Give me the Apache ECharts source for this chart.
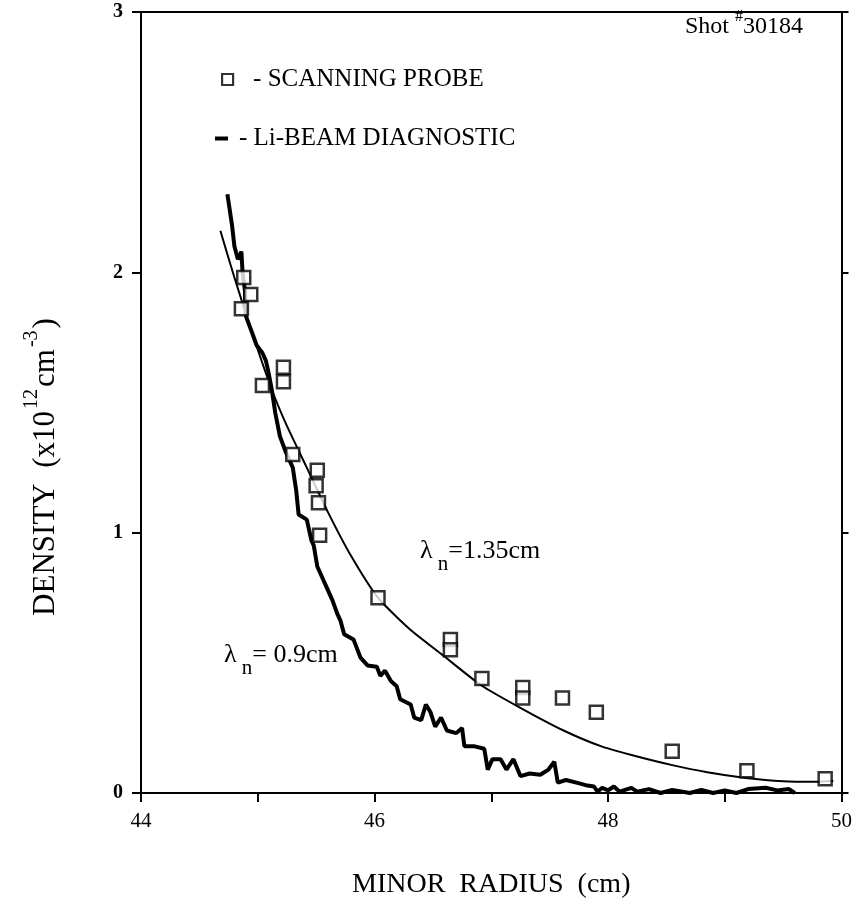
<!DOCTYPE html>
<html><head><meta charset="utf-8">
<script src="https://cdn.jsdelivr.net/npm/echarts@6/dist/echarts.min.js"></script>
<style>html,body{margin:0;padding:0;background:#fff}#c{width:855px;height:921px}</style>
</head><body><div id="c"></div>
<script>
// ---- data ----
const xTickLabels = [44, 46, 48, 50];
const yTickLabels = [0, 1, 2, 3];

// Scanning probe (hollow squares)
const probeX = [44.86, 44.88, 44.94, 45.04, 45.22, 45.22, 45.30, 45.51, 45.50, 45.52, 45.53,
                46.03, 46.65, 46.65, 46.92, 47.27, 47.27, 47.61, 47.90, 48.55, 49.19, 49.86];
const probeY = [1.86, 1.98, 1.915, 1.565, 1.635, 1.58, 1.30, 1.24, 1.18, 1.115, 0.99,
                0.75, 0.59, 0.55, 0.44, 0.405, 0.365, 0.365, 0.31, 0.16, 0.085, 0.055];

// Li-beam diagnostic (thick noisy trace)
const beamX = [44.74, 44.78, 44.80, 44.83, 44.86, 44.87, 44.89, 44.90, 44.95, 44.99, 45.04, 45.07,
               45.09, 45.12, 45.15, 45.19, 45.24, 45.30, 45.33, 45.35, 45.42, 45.46, 45.48, 45.51,
               45.56, 45.60, 45.64, 45.68, 45.71, 45.74, 45.82, 45.88, 45.94, 46.02, 46.05, 46.09,
               46.14, 46.19, 46.22, 46.31, 46.34, 46.40, 46.44, 46.48, 46.52, 46.57, 46.62, 46.70,
               46.75, 46.77, 46.85, 46.94, 46.97, 47.01, 47.08, 47.13, 47.19, 47.25, 47.33, 47.42,
               47.49, 47.54, 47.57, 47.64, 47.73, 47.81, 47.88, 47.91, 47.95, 48.00, 48.05, 48.10,
               48.20, 48.25, 48.35, 48.45, 48.55, 48.70, 48.80, 48.90, 49.00, 49.10, 49.20, 49.35,
               49.45, 49.55, 49.60];
const beamY = [2.30, 2.18, 2.10, 2.05, 2.08, 2.00, 1.93, 1.83, 1.77, 1.72, 1.69, 1.66,
               1.62, 1.55, 1.46, 1.37, 1.31, 1.25, 1.16, 1.07, 1.05, 0.97, 0.95, 0.87,
               0.82, 0.78, 0.74, 0.69, 0.66, 0.61, 0.59, 0.52, 0.49, 0.485, 0.45, 0.47,
               0.43, 0.41, 0.36, 0.34, 0.29, 0.28, 0.34, 0.31, 0.255, 0.29, 0.24, 0.23,
               0.25, 0.18, 0.18, 0.17, 0.09, 0.13, 0.13, 0.09, 0.13, 0.065, 0.075, 0.07,
               0.09, 0.12, 0.04, 0.05, 0.04, 0.03, 0.025, 0.005, 0.02, 0.01, 0.025, 0.005,
               0.02, 0.005, 0.015, 0.0, 0.012, 0.0, 0.012, 0.0, 0.01, 0.0, 0.015, 0.02,
               0.01, 0.015, 0.0];

// Fitted curve (lambda_n = 1.35 cm)
const fitX = [44.68, 44.80, 44.95, 45.12, 45.24, 45.42, 45.60, 45.80, 46.03, 46.30, 46.60, 46.91,
              47.23, 47.61, 47.95, 48.25, 48.55, 48.85, 49.18, 49.50, 49.78, 49.93];
const fitY = [2.16, 1.98, 1.77, 1.55, 1.42, 1.25, 1.08, 0.91, 0.75, 0.63, 0.524, 0.415,
              0.332, 0.242, 0.178, 0.14, 0.107, 0.08, 0.058, 0.045, 0.043, 0.046];

const FONT = '"Liberation Serif", "DejaVu Serif", serif';
const zip = (a, b) => a.map((v, i) => [v, b[i]]);

const chart = echarts.init(document.getElementById('c'), null, {renderer: 'canvas'});
chart.setOption({
  backgroundColor: '#fff',
  animation: false,
  grid: {left: 141, right: 11, top: 12, bottom: 128},
  xAxis: [{
    type: 'value', min: 44, max: 50, interval: 1, position: 'bottom',
    axisLine: {show: true, onZero: false, lineStyle: {color: '#000', width: 2}},
    axisTick: {show: true, inside: false, length: 9, lineStyle: {color: '#000', width: 2}},
    axisLabel: {color: '#000', fontFamily: FONT, fontSize: 21, margin: 18,
      formatter: v => xTickLabels.indexOf(v) >= 0 ? String(v) : ''},
    splitLine: {show: false},
    name: 'MINOR  RADIUS  (cm)', nameLocation: 'middle', nameGap: 78,
    nameTextStyle: {color: '#000', fontFamily: FONT, fontSize: 28}
  }, {
    type: 'value', min: 44, max: 50, interval: 1, position: 'top',
    axisLine: {show: true, onZero: false, lineStyle: {color: '#000', width: 2}},
    axisTick: {show: false}, axisLabel: {show: false}, splitLine: {show: false}
  }],
  yAxis: [{
    type: 'value', min: 0, max: 3, interval: 1, position: 'left',
    axisLine: {show: true, onZero: false, lineStyle: {color: '#000', width: 2}},
    axisTick: {show: true, inside: false, length: 9, lineStyle: {color: '#000', width: 2}},
    axisLabel: {color: '#000', fontFamily: FONT, fontSize: 20, fontWeight: 'bold', margin: 18,
      formatter: v => yTickLabels.indexOf(v) >= 0 ? String(v) : ''},
    splitLine: {show: false}
  }, {
    type: 'value', min: 0, max: 3, interval: 1, position: 'right',
    axisLine: {show: true, onZero: false, lineStyle: {color: '#000', width: 2}},
    axisTick: {show: true, inside: false, length: 7, lineStyle: {color: '#000', width: 2}},
    axisLabel: {show: false}, splitLine: {show: false}
  }],
  legend: [{
    data: ['SCANNING PROBE'], left: 216, top: 62, icon: 'rect',
    itemWidth: 11, itemHeight: 11,
    itemStyle: {color: '#fff', borderColor: '#000', borderWidth: 2.2},
    formatter: '- {name}',
    textStyle: {color: '#000', fontFamily: FONT, fontSize: 25, padding: [0, 0, 0, 15]}
  }, {
    data: ['Li-BEAM DIAGNOSTIC'], left: 210, top: 121, icon: 'rect',
    itemWidth: 13, itemHeight: 4,
    itemStyle: {color: '#000', borderWidth: 0},
    formatter: '- {name}',
    textStyle: {color: '#000', fontFamily: FONT, fontSize: 25, padding: [0, 0, 0, 6]}
  }],
  graphic: [
    {type: 'text', x: 685, y: 27, style: {
      text: '{a|Shot }{s|#}{a|30184}', align: 'left', verticalAlign: 'middle',
      textAlign: 'left', textVerticalAlign: 'middle', fill: '#000',
      rich: {a: {fontFamily: FONT, fontSize: 24, lineHeight: 36, verticalAlign: 'middle', fill: '#000'},
             s: {fontFamily: FONT, fontSize: 16, lineHeight: 16, verticalAlign: 'top', fill: '#000'}}}},
    {type: 'text', x: 420, y: 551, style: {
      text: '{a|λ}{b| n}{a|=1.35cm}', align: 'left', verticalAlign: 'middle',
      textAlign: 'left', textVerticalAlign: 'middle', fill: '#000',
      rich: {a: {fontFamily: FONT, fontSize: 26, lineHeight: 48, verticalAlign: 'middle', fill: '#000'},
             b: {fontFamily: FONT, fontSize: 21, lineHeight: 21, verticalAlign: 'bottom', fill: '#000'}}}},
    {type: 'text', x: 224, y: 655, style: {
      text: '{a|λ}{b| n}{a|= 0.9cm}', align: 'left', verticalAlign: 'middle',
      textAlign: 'left', textVerticalAlign: 'middle', fill: '#000',
      rich: {a: {fontFamily: FONT, fontSize: 26, lineHeight: 48, verticalAlign: 'middle', fill: '#000'},
             b: {fontFamily: FONT, fontSize: 21, lineHeight: 21, verticalAlign: 'bottom', fill: '#000'}}}},
    {type: 'text', x: 46, y: 467, rotation: Math.PI / 2, style: {
      text: '{a|DENSITY  (x10}{s|12}{a|cm}{s|-3}{a|)}', align: 'center', verticalAlign: 'middle',
      textAlign: 'center', textVerticalAlign: 'middle', fill: '#000',
      rich: {a: {fontFamily: FONT, fontSize: 31, lineHeight: 48, verticalAlign: 'middle', fill: '#000'},
             s: {fontFamily: FONT, fontSize: 20, lineHeight: 20, verticalAlign: 'top', fill: '#000', padding: [0, 2, 0, 2]}}}}
  ],
  series: [{
    name: 'Li-BEAM DIAGNOSTIC', type: 'line', xAxisIndex: 0, yAxisIndex: 0,
    data: zip(beamX, beamY), showSymbol: false, symbol: 'none',
    lineStyle: {color: '#000', width: 4}, itemStyle: {color: '#000'}, z: 2
  }, {
    name: 'fit', type: 'line', xAxisIndex: 0, yAxisIndex: 0,
    data: zip(fitX, fitY), showSymbol: false, symbol: 'none', smooth: 0.2,
    lineStyle: {color: '#000', width: 2}, z: 2
  }, {
    name: 'SCANNING PROBE', type: 'scatter', xAxisIndex: 0, yAxisIndex: 0,
    data: zip(probeX, probeY), symbol: 'rect', symbolSize: 13,
    itemStyle: {color: '#fff', borderColor: '#000', borderWidth: 2.5}, z: 5
  }]
});
</script>
</body></html>
